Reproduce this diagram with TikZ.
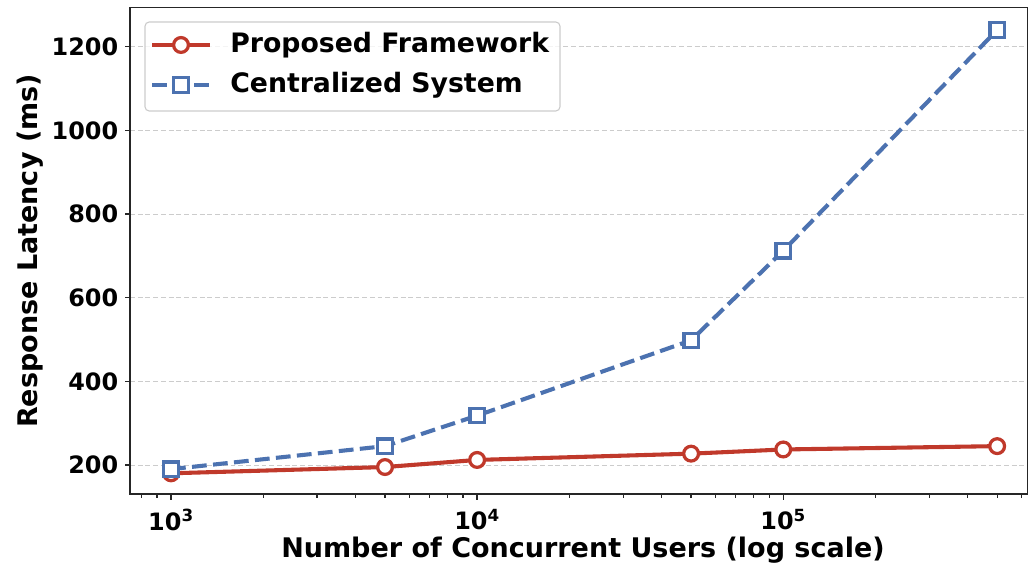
\documentclass[tikz,border=0pt]{standalone}
\usepackage{fontspec}
\setmainfont{DejaVu Sans}
\usetikzlibrary{positioning}
\definecolor{pfred}{RGB}{192,57,43}
\definecolor{csblue}{RGB}{76,114,176}

\begin{document}
\begin{tikzpicture}[x=0.025cm,y=0.025cm,
  axis/.style={line width=0.9pt,draw=black!85},
  gridline/.style={draw=black!20,line width=0.6pt,dash pattern=on 3.5pt off 2pt},
  ticklabel/.style={font=\fontsize{17}{19}\selectfont\bfseries},
  axlabel/.style={font=\fontsize{19.2}{21}\selectfont\bfseries},
  legtext/.style={font=\fontsize{19}{21}\selectfont\bfseries,anchor=west,inner sep=0pt},
  pfline/.style={draw=pfred,line width=2.9pt},
  csline/.style={draw=csblue,line width=2.9pt,dash pattern=on 10.5pt off 4.5pt},
  pfmark/.style={circle,draw=pfred,fill=white,line width=2.3pt,minimum size=0.37cm,inner sep=0pt},
  csmark/.style={rectangle,draw=csblue,fill=white,line width=2.3pt,minimum size=0.36cm,inner sep=0pt}]
\useasboundingbox (0,0) rectangle (1029,570);
\begin{scope}[xshift=-18.675cm,yshift=0.535cm,x=7.65cm,y=0.01045cm]
\coordinate (sw) at (2.866,130.6);
\coordinate (ne) at (5.797,1293);
\foreach \v in {200,400,...,1200} {
  \draw[gridline] (2.866,\v) -- (5.797,\v);
  \draw[axis] (2.866,\v) -- ++(-0.13cm,0) node[ticklabel,anchor=east,inner sep=0pt,xshift=-0.15cm] {\v};
}
\foreach \e in {2,...,5} \foreach \m in {2,...,9} {
  \pgfmathsetmacro\lx{\e+log10(\m)}
  \ifdim\lx pt>2.866pt \ifdim\lx pt<5.797pt \draw[axis] (\lx,130.6) -- ++(0,-0.09cm); \fi\fi
}
\foreach \e in {3,4,5}
  \draw[axis] (\e,130.6) -- ++(0,-0.16cm) node[ticklabel,below=0.08cm] {10\textsuperscript{\e}};
\draw[axis] (sw) rectangle (ne);
\coordinate (p1) at (3,180);
\coordinate (p2) at (3.699,195);
\coordinate (p3) at (4,212);
\coordinate (p4) at (4.699,227);
\coordinate (p5) at (5,237);
\coordinate (p6) at (5.699,245);
\coordinate (c1) at (3,190);
\coordinate (c2) at (3.699,245);
\coordinate (c3) at (4,318);
\coordinate (c4) at (4.699,498);
\coordinate (c5) at (5,712);
\coordinate (c6) at (5.699,1240);
\draw[pfline] (p1) -- (p2) -- (p3) -- (p4) -- (p5) -- (p6);
\foreach \i in {1,...,6} \node[pfmark] at (p\i) {};
\draw[csline] (c1) -- (c2) -- (c3) -- (c4) -- (c5) -- (c6);
\foreach \i in {1,...,6} \node[csmark] at (c\i) {};
\end{scope}
\draw[draw=black!20,fill=white,fill opacity=0.8,rounded corners=3pt,line width=0.8pt] (145,459) rectangle (560,548);
\coordinate (la) at (152,525);
\coordinate (lb) at (210,525);
\coordinate (lc) at (152,485);
\coordinate (ld) at (210,485);
\draw[pfline] (la) -- (lb);
\node[pfmark] (lpf) at (181,525) {};
\draw[csline] (lc) -- (ld);
\node[csmark] (lcs) at (181,485) {};
\node[legtext] (tpf) at (230,525) {Proposed Framework};
\node[legtext] (tcs) at (230,485) {Centralized System};
\node[axlabel,rotate=90] (ylab) at (30,319) {Response Latency (ms)};
\node[axlabel] (xlab) at (583,20) {Number of Concurrent Users (log scale)};
\end{tikzpicture}
\end{document}
